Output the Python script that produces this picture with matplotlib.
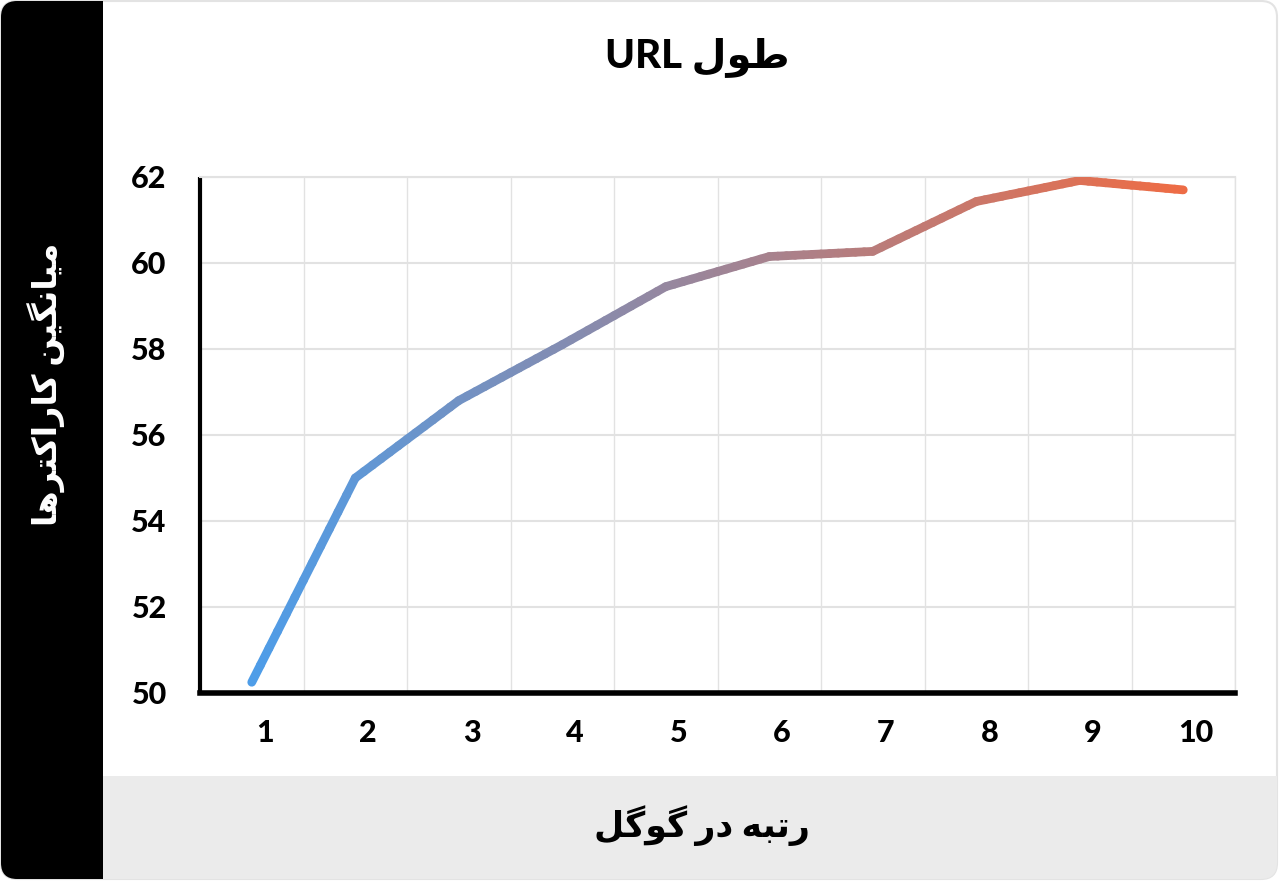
import matplotlib
matplotlib.use("Agg")
import matplotlib.pyplot as plt
import matplotlib.transforms as mtransforms
from matplotlib.collections import LineCollection
from matplotlib.patches import FancyBboxPatch, Rectangle
from matplotlib.colors import to_rgb
import numpy as np

# chart data
ranks = [1, 2, 3, 4, 5, 6, 7, 8, 9, 10]
avg_chars = [50.25, 55.0, 56.8, 58.1, 59.45, 60.15, 60.27, 61.43, 61.92, 61.7]
y_ticks = [50, 52, 54, 56, 58, 60, 62]

title_text = "طول URL"
x_label = "رتبه در گوگل"
y_label = "میانگین کاراکترها"

# persian shaping (matplotlib has no complex text layout)
FORMS = {
    'ا': ('\uFE8D', '\uFE8E', None, None),
    'ب': ('\uFE8F', '\uFE90', '\uFE91', '\uFE92'),
    'ت': ('\uFE95', '\uFE96', '\uFE97', '\uFE98'),
    'د': ('\uFEA9', '\uFEAA', None, None),
    'ر': ('\uFEAD', '\uFEAE', None, None),
    'ط': ('\uFEC1', '\uFEC2', '\uFEC3', '\uFEC4'),
    'ل': ('\uFEDD', '\uFEDE', '\uFEDF', '\uFEE0'),
    'م': ('\uFEE1', '\uFEE2', '\uFEE3', '\uFEE4'),
    'ن': ('\uFEE5', '\uFEE6', '\uFEE7', '\uFEE8'),
    'ه': ('\uFEE9', '\uFEEA', '\uFEEB', '\uFEEC'),
    'و': ('\uFEED', '\uFEEE', None, None),
    'ک': ('\uFB8E', '\uFB8F', '\uFB90', '\uFB91'),
    'گ': ('\uFB92', '\uFB93', '\uFB94', '\uFB95'),
    'ی': ('\uFBFC', '\uFBFD', '\uFBFE', '\uFBFF'),
}


def joins_left(ch):
    return ch in FORMS and FORMS[ch][2] is not None


def shape_word(w):
    out = []
    for i, ch in enumerate(w):
        if ch not in FORMS:
            out.append(ch)
            continue
        prev = w[i - 1] if i > 0 else None
        nxt = w[i + 1] if i + 1 < len(w) else None
        jp = prev is not None and joins_left(prev)
        jn = joins_left(ch) and nxt in FORMS
        iso, fin, ini, med = FORMS[ch]
        if jp and jn:
            out.append(med)
        elif jp:
            out.append(fin)
        elif jn:
            out.append(ini)
        else:
            out.append(iso)
    return ''.join(reversed(out))


def rtl(text):
    words = text.split(' ')
    vis = [shape_word(w) if any(c in FORMS for c in w) else w for w in words]
    return ' '.join(reversed(vis))


plt.rcParams['font.family'] = ['Lato', 'DejaVu Sans']

W, H = 1280, 881
fig = plt.figure(figsize=(W / 100, H / 100), dpi=100)

# background card
bg = fig.add_axes([0, 0, 1, 1], zorder=-1)
bg.set_xlim(0, W)
bg.set_ylim(H, 0)
bg.axis('off')
card = FancyBboxPatch((1, 1), W - 4, H - 3, boxstyle="round,pad=0,rounding_size=16",
                      facecolor='white', edgecolor='#e3e3e3', linewidth=1.5)
bg.add_patch(card)
side = Rectangle((0, 0), 103, H, facecolor='black', edgecolor='none')
band = Rectangle((103, 776), W, 110, facecolor='#ebebeb', edgecolor='none')
for p in (side, band):
    bg.add_patch(p)
    p.set_clip_path(card)

bg.text(697, 57, rtl(title_text), ha='center', va='center', fontsize=29, fontweight='black')
bg.text(702, 826, rtl(x_label), ha='center', va='center', fontsize=25, fontweight='black')
bg.text(46, 384, rtl(y_label), ha='center', va='center', fontsize=24, fontweight='black',
        color='white', rotation=90)

# main plot
ax = fig.add_axes([200 / W, 188 / H, 1035 / W, 516 / H])
ax.set_facecolor('none')
ax.set_xlim(0.529, 10.48)
ax.set_ylim(50, 62)

x = np.array(ranks, dtype=float)
y = np.array(avg_chars)
c0 = np.array(to_rgb('#4d9de9'))
c1 = np.array(to_rgb('#ee6c45'))
segs, cols = [], []
for i in range(len(x) - 1):
    n = 12
    for k in range(n):
        t0, t1 = k / n, (k + 1) / n
        xa = x[i] + (x[i + 1] - x[i]) * t0
        xb = x[i] + (x[i + 1] - x[i]) * t1
        ya = y[i] + (y[i + 1] - y[i]) * t0
        yb = y[i] + (y[i + 1] - y[i]) * t1
        segs.append([(xa, ya), (xb, yb)])
        f = ((xa + xb) / 2 - x[0]) / (x[-1] - x[0])
        cols.append(c0 + (c1 - c0) * f)
lc = LineCollection(segs, colors=cols, linewidths=6.3, capstyle='round', joinstyle='round', zorder=3)
ax.add_collection(lc)

ax.set_xticks(ranks)
ax.set_xticklabels([str(r) for r in ranks])
ax.set_xticks(np.arange(0.5, 11, 0.5), minor=True)
ax.set_yticks(y_ticks)
ax.set_yticklabels([str(v) for v in y_ticks])
ax.grid(True, which='minor', axis='x', color='#e2e2e2', linewidth=1)
ax.grid(True, which='major', axis='y', color='#e2e2e2', linewidth=1.5)
ax.tick_params(which='both', length=0)
ax.tick_params(axis='x', pad=19, labelsize=22)
ax.tick_params(axis='y', pad=24, labelsize=22)
for lab in ax.get_xticklabels() + ax.get_yticklabels():
    lab.set_fontweight('black')
off = mtransforms.ScaledTranslation(13 / 100, 0, fig.dpi_scale_trans)
for lab in ax.get_xticklabels():
    lab.set_transform(lab.get_transform() + off)

ax.spines['left'].set_linewidth(3)
ax.spines['left'].set_capstyle('butt')
ax.spines['bottom'].set_linewidth(4)
ax.spines['right'].set_color('#e2e2e2')
ax.spines['right'].set_linewidth(1)
ax.spines['top'].set_color('#e2e2e2')
ax.spines['top'].set_linewidth(1.5)

fig.savefig('out.png', dpi=100)
